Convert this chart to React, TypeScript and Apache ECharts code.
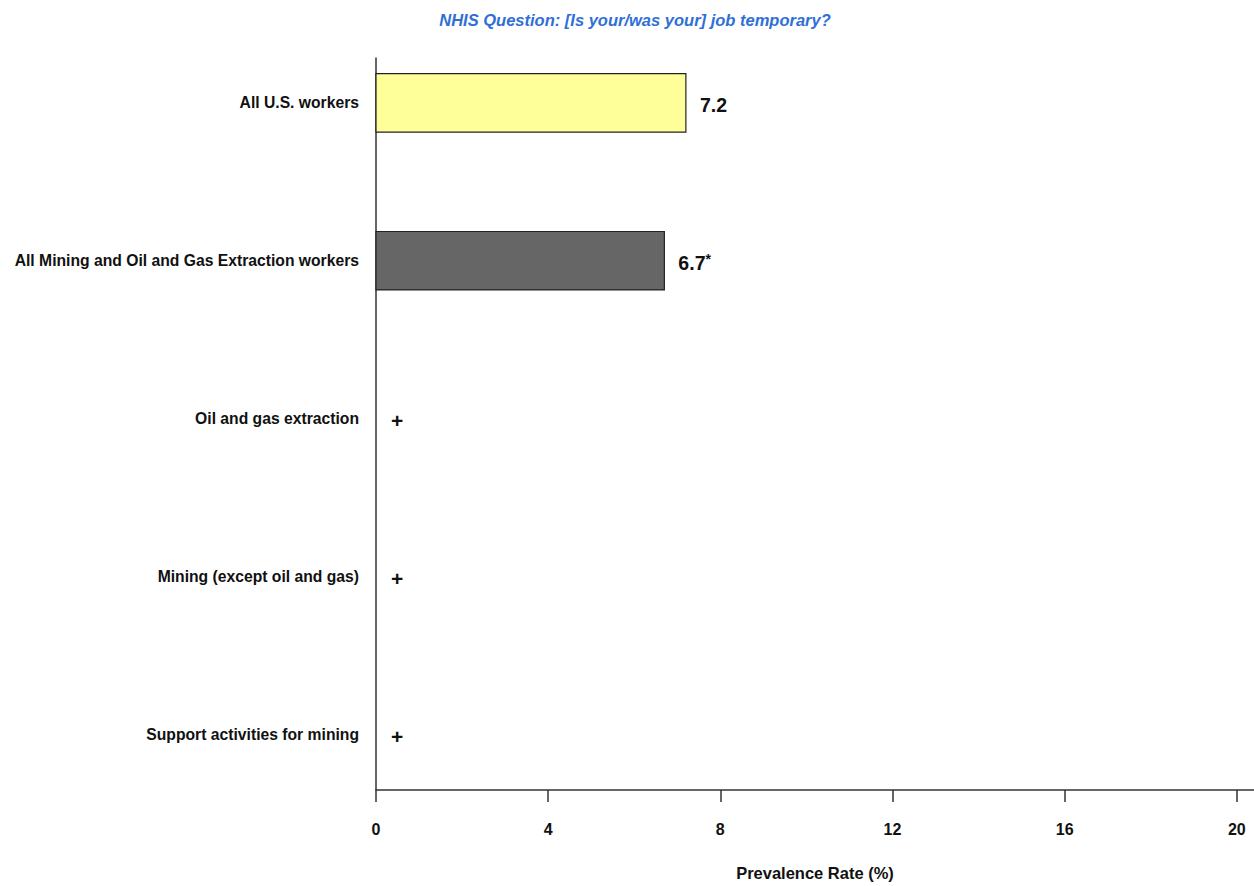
import React, { useEffect, useRef } from "react";
import * as echarts from "echarts";

const titleText = "NHIS Question: [Is your/was your] job temporary?";
const categories = [
  "All U.S. workers",
  "All Mining and Oil and Gas Extraction workers",
  "Oil and gas extraction",
  "Mining (except oil and gas)",
  "Support activities for mining",
];
const values: (number | null)[] = [7.2, 6.7, null, null, null];
const flags = ["", "*", "", "", ""];
const barColors = ["#FFFF99", "#666666", "#666666", "#666666", "#666666"];
const suppressedMark = "+";
const xTicks = [0, 4, 8, 12, 16, 20];
const axisName = "Prevalence Rate (%)";

const FONT = "'Liberation Sans', Arial, Helvetica, sans-serif";

export default function App() {
  const ref = useRef<HTMLDivElement>(null);
  useEffect(() => {
    if (!ref.current) return;
    const chart = echarts.init(ref.current, null, { renderer: "svg" });
    const data = categories.map((c, i) => [values[i] == null ? 0 : values[i], i, values[i] == null ? 1 : 0]);
    chart.setOption({
      animation: false,
      backgroundColor: "#ffffff",
      textStyle: { fontFamily: FONT },
      title: {
        text: titleText,
        left: 630,
        textAlign: "center",
        top: 6,
        textStyle: {
          fontFamily: FONT,
          fontSize: 16.5,
          fontWeight: "bold",
          fontStyle: "italic",
          color: "#2F6FD6",
        },
      },
      grid: { left: 376, right: 0, top: 58, bottom: 93, containLabel: false },
      xAxis: {
        type: "value",
        min: 0,
        max: 20.4,
        name: axisName,
        nameLocation: "middle",
        nameGap: 74,
        nameTextStyle: { fontFamily: FONT, fontSize: 16.5, fontWeight: "bold", color: "#111" },
        axisLine: { show: true, onZero: false, lineStyle: { color: "#333", width: 1.5 } },
        axisTick: { show: true, length: 12, customValues: xTicks, lineStyle: { color: "#333", width: 1.5 } },
        axisLabel: {
          customValues: xTicks,
          margin: 31,
          fontFamily: FONT,
          fontSize: 16,
          fontWeight: "bold",
          color: "#111",
        },
        splitLine: { show: false },
      },
      yAxis: {
        type: "value",
        inverse: true,
        min: -0.284,
        max: 4.353,
        axisLine: { show: true, onZero: false, lineStyle: { color: "#333", width: 1.5 } },
        axisTick: { show: false },
        splitLine: { show: false },
        axisLabel: {
          customValues: [0, 1, 2, 3, 4],
          formatter: (v: number) => categories[Math.round(v)] ?? "",
          margin: 17,
          padding: [5, 0, 0, 0],
          fontFamily: FONT,
          fontSize: 15.7,
          fontWeight: "bold",
          color: "#111",
        },
      },
      series: [
        {
          type: "custom",
          data,
          encode: { x: 0, y: 1 },
          renderItem: (params: any, api: any) => {
            const v = api.value(0);
            const idx = api.value(1);
            const suppressed = api.value(2) === 1;
            const start = api.coord([0, idx]);
            const end = api.coord([v, idx]);
            const h = api.size([0, 0.37])[1];
            const children: any[] = [];
            if (!suppressed) {
              children.push({
                type: "rect",
                shape: { x: start[0], y: start[1] - h / 2, width: end[0] - start[0], height: h },
                style: { fill: barColors[idx], stroke: "#222", lineWidth: 1.2 },
              });
            }
            const txt = suppressed
              ? suppressedMark
              : flags[idx]
              ? `${v.toFixed(1)}{sup|${flags[idx]}}`
              : v.toFixed(1);
            children.push({
              type: "text",
              x: end[0] + (suppressed ? 15 : 14),
              y: end[1] + 2,
              style: {
                text: txt,
                fontFamily: FONT,
                fontSize: suppressed ? 21 : 19.5,
                fontWeight: "bold",
                fill: "#111",
                verticalAlign: "middle",
                align: "left",
                rich: {
                  sup: { fontSize: 14, fontWeight: "bold", fill: "#111", verticalAlign: "top", padding: [0, 0, 8, 0] },
                },
              },
            });
            return { type: "group", children };
          },
        },
      ],
    });
    return () => chart.dispose();
  }, []);
  return (
    <div
      ref={ref}
      style={{ position: "fixed", left: 0, top: 0, width: 1254, height: 886 }}
    />
  );
}
